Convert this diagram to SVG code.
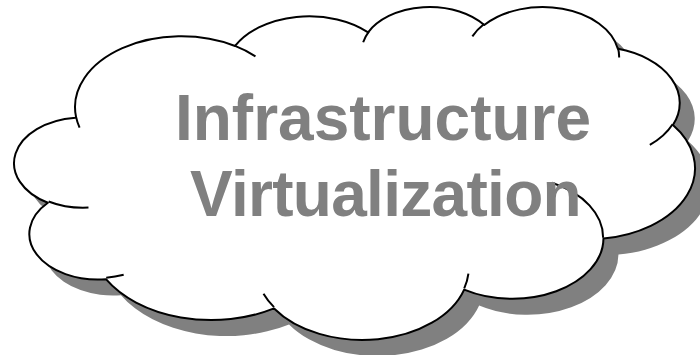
<svg xmlns="http://www.w3.org/2000/svg" width="700" height="355" viewBox="0 0 700 355">
  <defs>
    <style>
      .shadow { fill: #808080; stroke: none; }
      .body { fill: #ffffff; stroke: #000000; stroke-width: 2; stroke-linejoin: round; }
      .tick { fill: none; stroke: #000000; stroke-width: 2; stroke-linecap: butt; }
      .label { font-family: "Liberation Sans", Arial, sans-serif; font-weight: bold; font-size: 64px; fill: #808080; text-anchor: middle; }
    </style>
    <path id="cloudOutline" vector-effect="non-scaling-stroke" d="M3900,14370 A6753,9190 0 0 1 14004.6,5201.3 A5333,7267 0 0 1 22455.5,3431.3 A4365,5945 0 0 1 29832.6,2480.1 A4857,6595 0 0 1 38317.9,5575.2 A5333,7273 0 0 1 41818.1,15458.9 A6775,9220 0 0 1 37404.2,30202.3 A5785,7867 0 0 1 28555.9,36812.5 A6752,9215 0 0 1 16480.2,39263.3 A7720,10543 0 0 1 5804.6,35469.1 A4360,5918 0 0 1 2113.2,25547.4 A4345,5945 0 0 1 3862.8,14503.4 Z"/>
  </defs>
  <g id="connectors"></g>
  <g id="cloud">
    <use href="#cloudOutline" class="shadow" transform="matrix(0.015743 0 0 0.0077053 29.6 21.9)"/>
    <use href="#cloudOutline" class="body" transform="matrix(0.015743 0 0 0.0077053 14.6 5.9)"/>
    <path class="tick" vector-effect="non-scaling-stroke" transform="matrix(0.015743 0 0 0.0077053 14.6 5.9)" d="M4693,26177 A4345,5945 0 0 1 2160.4,25380.3 M6928,34899 A4360,5918 0 0 1 5819.7,35280.3 M16478,39090 A6752,9215 0 0 1 15810.4,37350.1 M28827,34751 A6752,9215 0 0 1 28560.4,36660.2 M34129,22954 A5785,7867 0 0 1 37380.4,30089.7 M41798,15354 A5333,7273 0 0 1 40350.2,18029.8 M38324,5426 A4857,6595 0 0 1 38400.4,6689.7 M29078,3952 A4857,6595 0 0 1 29819.6,2340.3 M22141,4720 A4365,5945 0 0 1 22500.2,3330.1 M14000,5192 A6753,9190 0 0 1 15300.5,6541.0 M4127,15789 A6753,9190 0 0 1 3900.1,14370.3"/>
    <text class="label" x="383" y="140">Infrastructure</text>
    <text class="label" x="385.5" y="215.5" letter-spacing="-0.7">Virtualization</text>
  </g>
</svg>
